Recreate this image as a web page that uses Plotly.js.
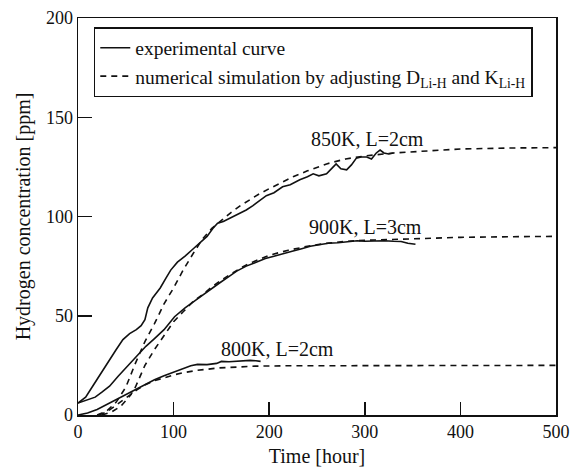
<!DOCTYPE html>
<html>
<head>
<meta charset="utf-8">
<script src="https://cdn.plot.ly/plotly-3.0.1.min.js"></script>
<style>html,body{margin:0;padding:0;background:#fff;}#chart{width:572px;height:474px;}</style>
</head>
<body>
<div id="chart"></div>
<script>
// 850K, L=2cm experimental
var exp850x = [0, 8, 16, 25, 33, 40, 47, 54, 61, 66, 70, 73, 78, 86, 92, 97, 104, 112, 120, 128, 135, 141, 146, 152, 160, 168, 176, 183, 190, 197, 205, 214, 222, 232, 240, 246, 252, 260, 266, 270, 275, 281, 286, 291, 296, 302, 307, 312, 316, 320, 325, 330];
var exp850y = [6, 9, 15, 22, 28, 33, 38, 41, 43, 45, 48, 54, 59, 64, 69, 73, 77, 80, 83.5, 87, 90, 94, 96.6, 97.5, 99.5, 101.5, 103.3, 105.5, 108, 110.5, 112, 115, 116, 118.5, 120, 121.5, 120.5, 121.5, 124.5, 126.5, 124, 123.5, 126, 129.3, 130, 130, 129, 132, 133.5, 132, 131.5, 132];
// 850K simulation
var sim850x = [20, 30, 40, 50, 60, 70, 80, 90, 100, 110, 120, 130, 140, 150, 160, 170, 180, 190, 200, 210, 225, 240, 260, 280, 300, 330, 360, 400, 450, 500];
var sim850y = [0, 2, 6.5, 14, 26, 37, 46, 56, 64, 73, 81, 88.5, 94, 98, 102, 105.5, 108.5, 111.5, 114, 116.5, 120, 123, 126.5, 129, 130.5, 132, 133, 134, 134.5, 134.7];
// 900K, L=3cm experimental
var exp900x = [0, 10, 18, 25, 33, 42, 52, 62, 71, 80, 90, 101, 112, 125, 136, 148, 157, 166, 176, 186, 196, 205, 215, 224, 234, 243, 252, 262, 272, 282, 292, 300, 310, 320, 330, 338, 345, 353];
var exp900y = [6, 7.5, 9, 11.5, 14.5, 19.5, 24.6, 30, 34.6, 38.5, 43, 49.5, 54, 58.5, 62.5, 66.5, 69.5, 72.5, 75, 76.8, 78.8, 80, 81.5, 82.5, 83.8, 85, 85.8, 86.5, 86.8, 87.3, 87.8, 87.5, 87.6, 87.8, 87.5, 87.4, 86.5, 86];
// 900K simulation
var sim900x = [25, 35, 45, 55, 60, 70, 80, 90, 100, 110, 120, 130, 140, 150, 160, 170, 180, 190, 200, 220, 240, 260, 280, 300, 330, 360, 400, 450, 500];
var sim900y = [0, 1.5, 4.5, 10, 14, 25, 33, 40, 47, 52, 57, 60.5, 64.5, 68, 71, 74, 76.5, 78.5, 80.5, 83, 85, 86.5, 87.5, 88, 88.5, 89, 89.5, 89.8, 90];
// 800K, L=2cm experimental
var exp800x = [0, 10, 20, 35, 50, 60, 70, 80, 90, 100, 110, 118, 125, 135, 145, 150, 158, 165, 172, 180, 186, 191];
var exp800y = [0, 1, 2.8, 6.5, 10.5, 12.8, 15.5, 17.8, 19.8, 21.5, 23.5, 24.8, 25.5, 25.4, 26, 27, 26.8, 27, 27.4, 27.5, 27.3, 27];
// 800K simulation
var sim800x = [22, 30, 40, 52, 62, 71, 80, 90, 100, 110, 125, 147, 165, 185, 220, 300, 400, 500];
var sim800y = [0, 1.5, 5, 9.5, 12.8, 15.4, 17.3, 18.7, 20.2, 21.3, 22.5, 23.7, 24.2, 24.6, 24.8, 24.9, 25, 25];

var xTicks = [0, 100, 200, 300, 400, 500];
var yTicks = [0, 50, 100, 150, 200];
var legendNames = ["experimental curve", "numerical simulation by adjusting D<sub>Li-H</sub> and K<sub>Li-H</sub>"];
var labelText = ["850K, L=2cm", "900K, L=3cm", "800K, L=2cm"];
var labelX = [303, 301, 209];
var labelY = [139, 94.5, 33.5];

var solid = {color: "#111", width: 1.6};
var dashed = {color: "#111", width: 1.6, dash: "6px,5px"};
var traces = [
  {x: exp850x, y: exp850y, mode: "lines", line: solid, name: legendNames[0], showlegend: true},
  {x: sim850x, y: sim850y, mode: "lines", line: dashed, name: legendNames[1], showlegend: true},
  {x: exp900x, y: exp900y, mode: "lines", line: solid, showlegend: false},
  {x: sim900x, y: sim900y, mode: "lines", line: dashed, showlegend: false},
  {x: exp800x, y: exp800y, mode: "lines", line: solid, showlegend: false},
  {x: sim800x, y: sim800y, mode: "lines", line: dashed, showlegend: false}
];
var fam = "'Liberation Serif', 'Times New Roman', serif";
var tickFont = {family: fam, size: 18, color: "#111"};
var textFont = {family: fam, size: 20, color: "#111"};
var legendFont = {family: fam, size: 19.5, color: "#111"};
var annotations = labelText.map(function (t, i) {
  return {x: labelX[i], y: labelY[i], xref: "x", yref: "y", text: t, showarrow: false, font: textFont, xanchor: "center", yanchor: "middle"};
});
var layout = {
  width: 572, height: 474,
  margin: {l: 78, r: 16, t: 18, b: 59},
  paper_bgcolor: "#fff", plot_bgcolor: "#fff",
  font: tickFont,
  showlegend: true,
  legend: {x: 0.033, y: 0.977, xanchor: "left", yanchor: "top", bordercolor: "#111", borderwidth: 1.5, bgcolor: "#fff", font: legendFont, tracegroupgap: 0, itemwidth: 30},
  xaxis: {range: [0, 500], tickvals: xTicks, ticks: "inside", ticklen: 13, tickwidth: 1.5, tickcolor: "#111",
    showline: true, linecolor: "#111", linewidth: 1.5, mirror: true, showgrid: false, zeroline: false,
    tickfont: tickFont, title: {text: "Time [hour]", font: textFont, standoff: 8}},
  yaxis: {range: [0, 200], tickvals: yTicks, ticks: "inside", ticklen: 14, tickwidth: 1.5, tickcolor: "#111",
    showline: true, linecolor: "#111", linewidth: 1.5, mirror: true, showgrid: false, zeroline: false,
    tickfont: tickFont, title: {text: "Hydrogen concentration [ppm]", font: textFont, standoff: 10}},
  annotations: annotations
};
Plotly.newPlot("chart", traces, layout, {displayModeBar: false, staticPlot: true});
</script>
</body>
</html>
